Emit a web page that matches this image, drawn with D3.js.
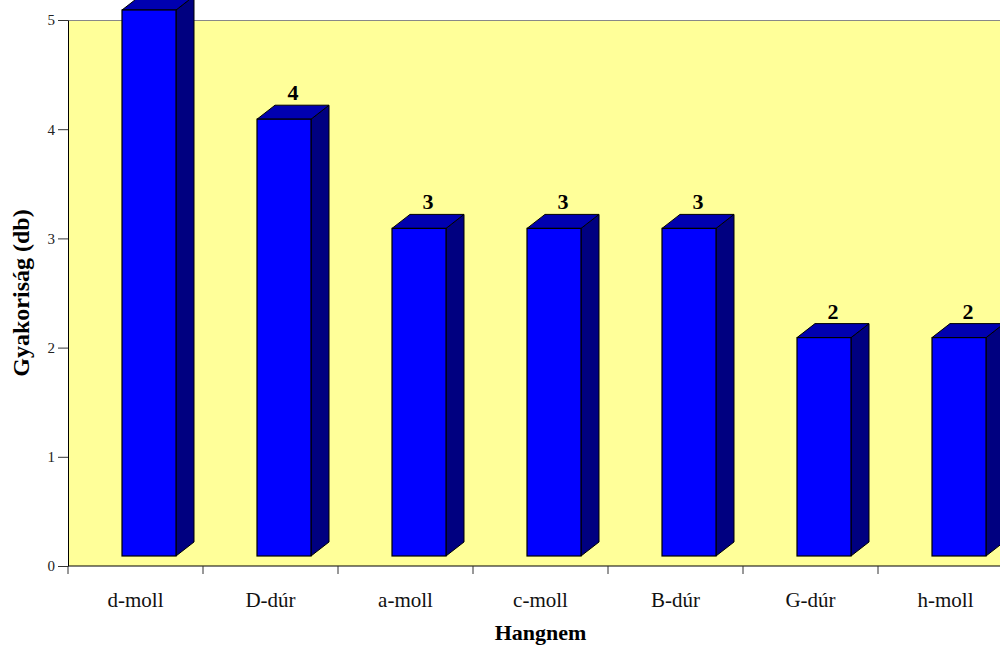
<!DOCTYPE html>
<html>
<head>
<meta charset="utf-8">
<script src="https://cdn.jsdelivr.net/npm/d3@7"></script>
<style>
  body { margin: 0; background: #fff; }
  text { font-family: "Liberation Serif", "Times New Roman", serif; }
</style>
</head>
<body>
<svg id="chart" width="1000" height="645"></svg>
<script>
// chart data
const keys = ["d-moll", "D-dúr", "a-moll", "c-moll", "B-dúr", "G-dúr", "h-moll"];
const counts = [5, 4, 3, 3, 3, 2, 2];
const yTicks = [0, 1, 2, 3, 4, 5];

const margin = { left: 68, top: 20 };
const plotW = 945, plotH = 546;
const depthX = 18, depthY = 14, lift = 10; // fake 3d offsets

const svg = d3.select("#chart");
const g = svg.append("g").attr("transform", `translate(${margin.left},${margin.top})`);

const x = d3.scaleBand().domain(keys).range([0, plotW]);
const y = d3.scaleLinear().domain([0, 5]).range([plotH, 0]);

// plot background
g.append("rect")
  .attr("width", plotW).attr("height", plotH)
  .attr("fill", "#ffff99");
g.append("line")
  .attr("x1", 0).attr("x2", plotW).attr("y1", 0.5).attr("y2", 0.5)
  .attr("stroke", "#888");

// bars
const bw = x.bandwidth() * 0.4;
const bars = g.selectAll(".bar").data(keys).enter().append("g").attr("class", "bar");

bars.each(function(k, i) {
  const b = d3.select(this);
  const x0 = x(k) + x.bandwidth() * 0.4;
  const x1 = x0 + bw;
  const yt = y(counts[i]) - lift;
  const yb = y(0) - lift;
  // side
  b.append("path")
    .attr("d", `M${x1},${yt}L${x1 + depthX},${yt - depthY}L${x1 + depthX},${yb - depthY}L${x1},${yb}Z`)
    .attr("fill", "#000080").attr("stroke", "#000").attr("stroke-width", 1);
  // top
  b.append("path")
    .attr("d", `M${x0},${yt}L${x0 + depthX},${yt - depthY}L${x1 + depthX},${yt - depthY}L${x1},${yt}Z`)
    .attr("fill", "#0000b0").attr("stroke", "#000").attr("stroke-width", 1);
  // front
  b.append("rect")
    .attr("x", x0).attr("y", yt).attr("width", bw).attr("height", yb - yt)
    .attr("fill", "#0000ff").attr("stroke", "#000").attr("stroke-width", 1.2);
  // value label (the tallest one runs off the top in the original)
  const ly = yt - depthY - 5;
  if (ly + margin.top > 20) {
    b.append("text")
      .attr("x", x0 + bw / 2 + depthX / 2)
      .attr("y", ly)
      .attr("text-anchor", "middle")
      .attr("font-size", 22).attr("font-weight", "bold")
      .text(counts[i]);
  }
});

// y axis
const yAxis = g.append("g")
  .call(d3.axisLeft(y).tickValues(yTicks).tickFormat(d3.format("d"))
    .tickSize(10).tickPadding(3).tickSizeOuter(0));
yAxis.attr("font-family", null);
yAxis.select(".domain").attr("stroke", "#000");
yAxis.selectAll(".tick line").attr("stroke", "#333");
yAxis.selectAll("text").attr("font-size", 15).attr("fill", "#222");

// x axis
const xAxis = g.append("g").attr("transform", `translate(0,${plotH})`);
xAxis.append("line").attr("x1", 0).attr("x2", plotW).attr("stroke", "#000");
xAxis.selectAll(".xtick")
  .data(d3.range(keys.length + 1))
  .enter().append("line")
  .attr("x1", d => x.step() * d).attr("x2", d => x.step() * d)
  .attr("y1", 0).attr("y2", 8)
  .attr("stroke", "#333");
xAxis.selectAll(".xlabel")
  .data(keys)
  .enter().append("text")
  .attr("x", d => x(d) + x.bandwidth() / 2)
  .attr("y", 41)
  .attr("text-anchor", "middle")
  .attr("font-size", 21).attr("fill", "#111")
  .text(d => d);

// axis titles
svg.append("text")
  .attr("x", margin.left + plotW / 2).attr("y", 640)
  .attr("text-anchor", "middle")
  .attr("font-size", 22).attr("font-weight", "bold")
  .text("Hangnem");

svg.append("text")
  .attr("transform", `translate(29,${margin.top + plotH / 2}) rotate(-90)`)
  .attr("text-anchor", "middle")
  .attr("font-size", 24).attr("font-weight", "bold")
  .text("Gyakoriság (db)");
</script>
</body>
</html>
